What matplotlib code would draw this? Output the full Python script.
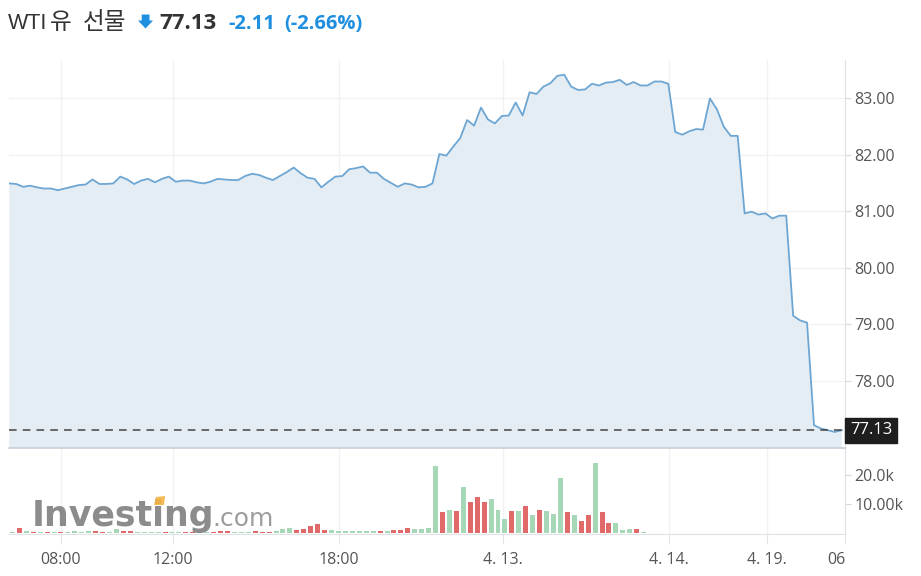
import matplotlib
matplotlib.use("Agg")
import matplotlib.pyplot as plt
from matplotlib.patches import Polygon
import numpy as np

# ---------------- data ----------------
price = [81.49, 81.48, 81.43, 81.45, 81.42, 81.40, 81.40, 81.37, 81.40, 81.43,
         81.46, 81.47, 81.56, 81.48, 81.48, 81.49, 81.61, 81.56, 81.48, 81.54,
         81.57, 81.51, 81.57, 81.61, 81.52, 81.54, 81.54, 81.51, 81.49, 81.52,
         81.57, 81.56, 81.55, 81.55, 81.62, 81.66, 81.64, 81.59, 81.55, 81.62,
         81.69, 81.77, 81.67, 81.59, 81.57, 81.42, 81.52, 81.61, 81.62, 81.74,
         81.76, 81.79, 81.68, 81.68, 81.57, 81.50, 81.43, 81.49, 81.47, 81.42,
         81.43, 81.49, 82.01, 81.98, 82.14, 82.29, 82.61, 82.51, 82.83, 82.62,
         82.55, 82.68, 82.69, 82.92, 82.69, 83.10, 83.07, 83.20, 83.26, 83.39,
         83.41, 83.20, 83.14, 83.15, 83.25, 83.22, 83.27, 83.28, 83.32, 83.23,
         83.28, 83.22, 83.22, 83.29, 83.29, 83.25, 82.40, 82.35, 82.41, 82.45,
         82.44, 82.99, 82.80, 82.49, 82.33, 82.33, 80.96, 80.99, 80.94, 80.96,
         80.87, 80.92, 80.92, 79.15, 79.07, 79.03, 77.22, 77.16, 77.13, 77.10,
         77.13]

volume_k = [0.3, 1.7, 0.5, 0.2, 0.3, 0.3, 0.3, 0.3, 0.3, 0.4,
            0.3, 0.5, 0.4, 0.3, 0.3, 1.1, 0.4, 0.4, 0.3, 0.3,
            0.3, 0.3, 0.3, 0.3, 0.3, 0.3, 0.3, 0.3, 0.3, 0.3,
            0.4, 0.4, 0.3, 0.3, 0.3, 0.6, 0.3, 0.3, 0.6, 1.1,
            1.7, 0.8, 1.1, 2.2, 2.8, 0.8, 0.8, 0.6, 0.6, 0.6,
            0.6, 0.6, 0.6, 0.6, 0.6, 0.8, 0.8, 1.7, 1.2, 1.1,
            1.7, 23.0, 7.0, 7.9, 7.4, 15.7, 10.6, 12.1, 10.6, 11.6,
            7.9, 4.8, 7.4, 7.4, 9.1, 6.0, 7.9, 7.4, 6.3, 18.8,
            7.0, 5.9, 3.9, 5.9, 24.0, 7.0, 3.3, 3.3, 0.8, 1.2,
            1.2, 0.3] + [0.0] * 29

volume_dir = list("ududududuu"
                  "uudduudduu"
                  "uuduudduud"
                  "dduuudddu"
                  "uuddddduuu"
                  "uuuududddu"
                  "uuudududdd"
                  "uuudududuu"
                  "ududdudduu"
                  "ud" + "u" * 31)

price_ticks = [78, 79, 80, 81, 82, 83]
vol_ticks = [10, 20]
vol_tick_labels = ["10.00k", "20.0k"]
time_tick_pos = [7.45, 23.64, 47.57, 71.21, 95.14, 109.27]
time_tick_labels = ["08:00", "12:00", "18:00", "4. 13.", "4. 14.", "4. 19."]
last_price = 77.13
change = "-2.11"
change_pct = "(-2.66%)"
title_latin = "WTI"
title_kr1 = "유"
title_kr2 = "선물"

# ---------------- styling ----------------
W, H = 921, 576
FONT = ["Open Sans", "Noto Sans CJK KR", "DejaVu Sans"]
plt.rcParams["font.family"] = FONT
LINE_C = "#6ea6d3"
FILL_C = "#e4edf4"
GRID_C = "#f1f2f4"
TXT_C = "#555555"
UP_C = "#a6d7b6"
DN_C = "#e06a6a"
BLUE = "#1f8fe0"

fig = plt.figure(figsize=(W / 100, H / 100), dpi=100)

def fx(px):
    return px / W

def fy(py):
    return 1 - py / H

# price axes: x 9..845, y 60..448
axp = fig.add_axes([fx(9), fy(448), fx(845) - fx(9), fy(60) - fy(448)])
# volume axes: y 449..534
axv = fig.add_axes([fx(9), fy(534), fx(845) - fx(9), fy(449) - fy(534)], sharex=axp)

x = np.arange(len(price))
xlim = (-0.04, 120.47)

axp.fill_between(x, price, 70, color=FILL_C, zorder=1, lw=0)
axp.plot(x, price, color=LINE_C, lw=1.3, zorder=3)
axp.axhline(last_price, color="#444444", lw=1.1, ls=(0, (5, 4)), zorder=4)
axp.set_xlim(*xlim)
axp.set_ylim(76.816, 83.67)

axp.yaxis.tick_right()
axp.set_yticks(price_ticks)
axp.set_yticklabels([f"{v:.2f}" for v in price_ticks])
axp.tick_params(axis="y", which="both", length=4, color="#d6d9de", labelsize=11.5,
                labelcolor=TXT_C, pad=3)
axp.tick_params(axis="x", which="both", length=0, labelbottom=False)
axp.grid(True, color=GRID_C, lw=1, zorder=0)
axp.set_axisbelow(True)
for s in ["top", "left"]:
    axp.spines[s].set_visible(False)
axp.spines["right"].set_color("#dfe2e6")
axp.spines["bottom"].set_color("#c9ced6")
axp.spines["bottom"].set_linewidth(1.2)

# last price box
axp.annotate(f"{last_price:.2f}", xy=(1.0, last_price),
             xycoords=("axes fraction", "data"),
             xytext=(5, 0), textcoords="offset pixels",
             ha="left", va="center", color="white", fontsize=12,
             bbox=dict(boxstyle="square,pad=0.28", fc="#1e1e1e", ec="#1e1e1e"),
             annotation_clip=False, zorder=10)

# volume bars (each bar sits between two price points)
vx = np.arange(len(volume_k)) + 0.45
colors = [UP_C if d == "u" else DN_C for d in volume_dir[:len(volume_k)]]
axv.bar(vx, volume_k, width=0.72, color=colors, zorder=2, lw=0)
axv.set_ylim(-0.5, 28.8)
axv.set_xlim(*xlim)
axv.yaxis.tick_right()
axv.set_yticks(vol_ticks)
axv.set_yticklabels(vol_tick_labels)
axv.tick_params(axis="y", length=4, color="#d6d9de", labelsize=11.5,
                labelcolor=TXT_C, pad=3)
tick_pos = time_tick_pos + [xlim[1]]
axv.set_xticks(tick_pos)
axv.set_xticklabels(time_tick_labels + ["06"])
axv.tick_params(axis="x", length=7, color="#e3e5e9", labelsize=11.5,
                labelcolor=TXT_C, pad=6)
axv.get_xticklabels()[-1].set_ha("right")
axp.set_xticks(tick_pos)
axv.grid(True, axis="x", color=GRID_C, lw=1, zorder=0)
axv.set_axisbelow(True)
for s in ["top", "left"]:
    axv.spines[s].set_visible(False)
axv.spines["right"].set_color("#dfe2e6")
axv.spines["bottom"].set_color("#dfe2e6")

# watermark
fig.text(fx(32), fy(526), "Investing", fontsize=25, fontweight="bold",
         family="DejaVu Sans", color="#787878", alpha=0.85,
         va="baseline", ha="left", zorder=20)
fig.text(fx(212), fy(526), ".com", fontsize=18, family="DejaVu Sans",
         color="#8c8c8c", alpha=0.85, va="baseline", ha="left", zorder=20)
fig.patches.append(Polygon([[fx(154), fy(505)], [fx(164), fy(505)],
                            [fx(165), fy(496)], [fx(156), fy(497)]],
                           closed=True, transform=fig.transFigure,
                           fc="#f5b342", ec="none", alpha=0.9, zorder=21))

# title
KR = ["Noto Sans CJK KR", "DejaVu Sans"]
fig.text(fx(8), fy(29), title_latin, fontsize=15.5, color="#333333",
         family="Liberation Sans", va="baseline", ha="left")
fig.text(fx(49.5), fy(29), title_kr1, fontsize=17, color="#333333",
         family=KR, va="baseline", ha="left")
fig.text(fx(83), fy(29), title_kr2, fontsize=17, color="#333333",
         family=KR, va="baseline", ha="left")
fig.patches.append(Polygon([[fx(138), fy(20.5)], [fx(141.7), fy(20.5)], [fx(141.7), fy(14.5)],
                            [fx(149.5), fy(14.5)], [fx(149.5), fy(20.5)], [fx(153), fy(20.5)],
                            [fx(145.5), fy(28.5)]],
                           closed=True, transform=fig.transFigure,
                           fc=BLUE, ec="none"))
fig.text(fx(159), fy(29), f"{last_price:.2f}", fontsize=16, fontweight="bold",
         color="#333333", va="baseline", ha="left")
fig.text(fx(228), fy(29), change, fontsize=14.5, fontweight="bold",
         color=BLUE, va="baseline", ha="left")
fig.text(fx(284), fy(29), change_pct, fontsize=14.5, fontweight="bold",
         color=BLUE, va="baseline", ha="left")

fig.savefig("out.png", dpi=100)
